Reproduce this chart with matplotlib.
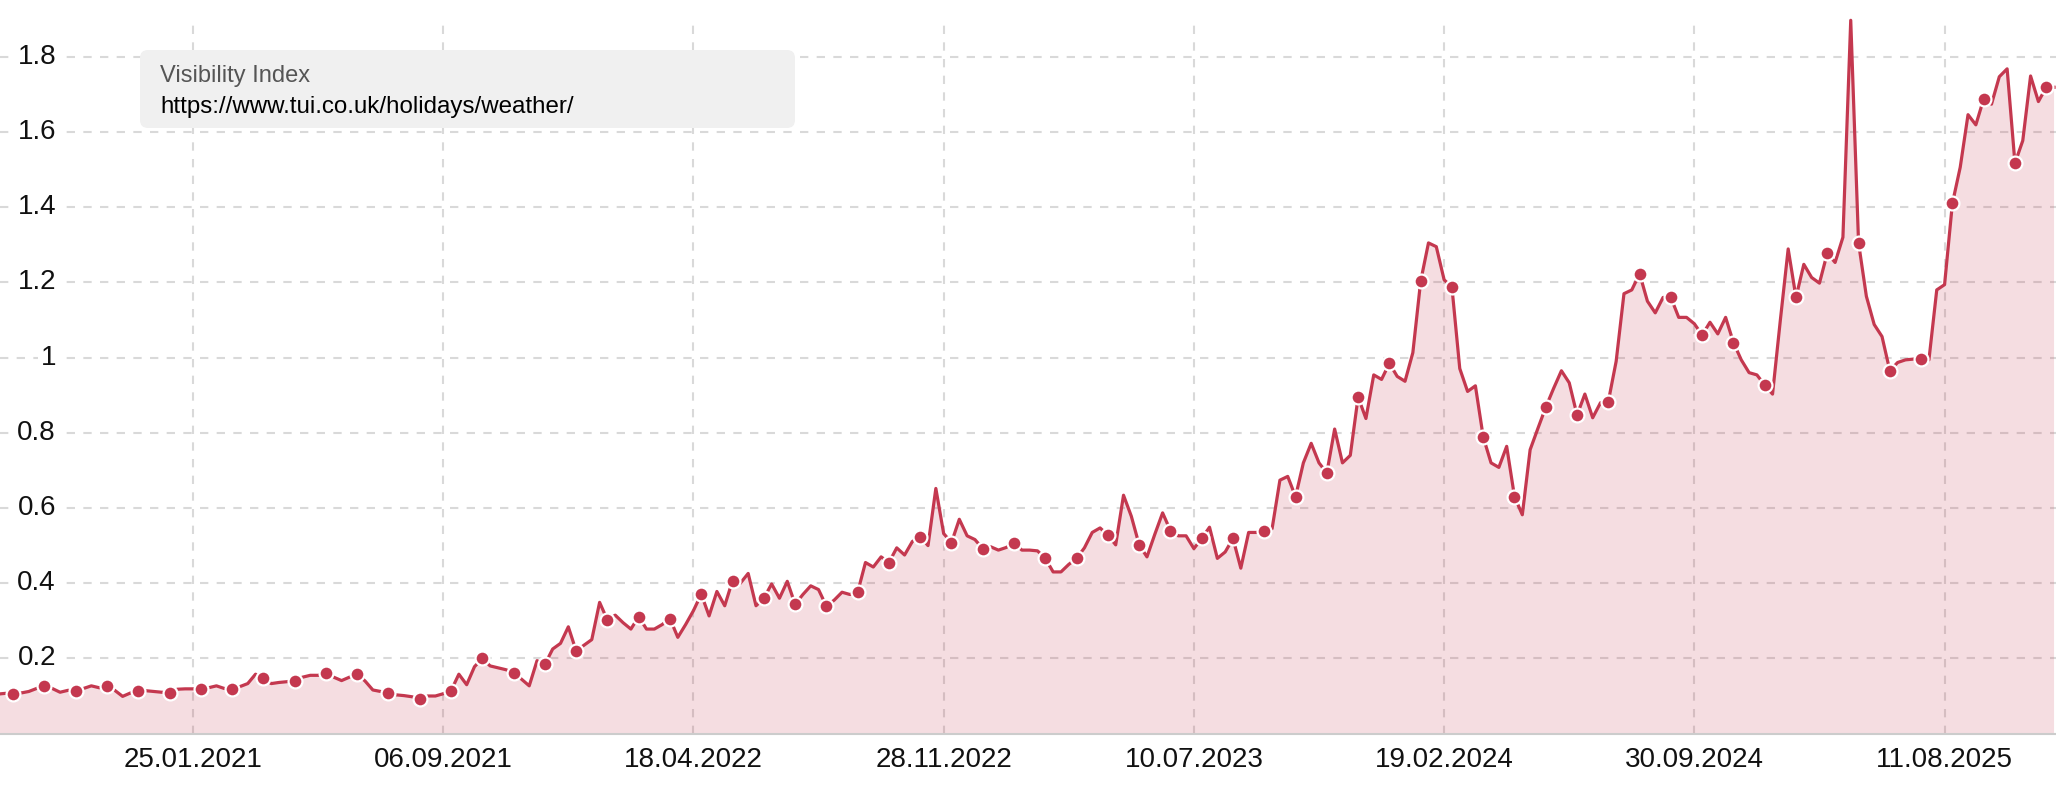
import numpy as np
import matplotlib
matplotlib.use("Agg")
import matplotlib.pyplot as plt
from matplotlib.patches import FancyBboxPatch
from matplotlib.transforms import IdentityTransform

plt.rcParams['font.family'] = ['Liberation Sans', 'DejaVu Sans']

# weekly visibility index values (first value sits just left of the axis)
visibility = [
    0.105, 0.107,
    0.104, 0.108, 0.112, 0.120, 0.127, 0.120, 0.110, 0.115, 0.114, 0.120,
    0.127, 0.122, 0.127, 0.115, 0.099, 0.108, 0.114, 0.114, 0.112, 0.110,
    0.109, 0.118, 0.119, 0.119, 0.119, 0.122, 0.127, 0.120, 0.119, 0.125,
    0.133, 0.158, 0.147, 0.133, 0.136, 0.138, 0.141, 0.150, 0.155, 0.155,
    0.162, 0.150, 0.141, 0.150, 0.158, 0.140, 0.116, 0.112, 0.109, 0.103,
    0.101, 0.098, 0.092, 0.100, 0.100, 0.106, 0.114, 0.158, 0.130, 0.178,
    0.200, 0.180, 0.175, 0.170, 0.162, 0.145, 0.127, 0.194, 0.184, 0.225,
    0.240, 0.284, 0.220, 0.235, 0.250, 0.349, 0.302, 0.315, 0.295, 0.278,
    0.311, 0.278, 0.278, 0.290, 0.306, 0.256, 0.290, 0.327, 0.371, 0.313,
    0.378, 0.340, 0.407, 0.400, 0.426, 0.340, 0.360, 0.398, 0.360, 0.405,
    0.344, 0.370, 0.393, 0.383, 0.339, 0.355, 0.376, 0.370, 0.376, 0.455,
    0.443, 0.470, 0.455, 0.494, 0.475, 0.511, 0.524, 0.500, 0.652, 0.532,
    0.508, 0.570, 0.526, 0.516, 0.492, 0.497, 0.488, 0.495, 0.508, 0.488,
    0.488, 0.486, 0.466, 0.430, 0.430, 0.450, 0.466, 0.494, 0.535, 0.547,
    0.528, 0.502, 0.634, 0.578, 0.502, 0.470, 0.530, 0.587, 0.540, 0.526,
    0.526, 0.492, 0.519, 0.549, 0.466, 0.483, 0.519, 0.440, 0.535, 0.535,
    0.540, 0.545, 0.674, 0.684, 0.630, 0.720, 0.772, 0.720, 0.693, 0.810,
    0.720, 0.740, 0.895, 0.838, 0.954, 0.942, 0.985, 0.950, 0.937, 1.013,
    1.203, 1.305, 1.295, 1.207, 1.187, 0.971, 0.910, 0.925, 0.789, 0.720,
    0.708, 0.764, 0.630, 0.582, 0.755, 0.812, 0.868, 0.918, 0.965, 0.933,
    0.847, 0.903, 0.840, 0.880, 0.883, 0.990, 1.170, 1.180, 1.223, 1.150,
    1.119, 1.160, 1.160, 1.107, 1.107, 1.090, 1.060, 1.094, 1.063, 1.107,
    1.040, 0.994, 0.960, 0.954, 0.927, 0.903, 1.100, 1.289, 1.160, 1.248,
    1.213, 1.198, 1.278, 1.253, 1.320, 1.897, 1.305, 1.163, 1.088, 1.056,
    0.965, 0.987, 0.994, 0.996, 0.996, 0.994, 1.180, 1.194, 1.410, 1.506,
    1.646, 1.619, 1.688, 1.674, 1.747, 1.768, 1.517, 1.577, 1.749, 1.681,
    1.719, 1.719,
]

date_labels = ['25.01.2021', '06.09.2021', '18.04.2022', '28.11.2022',
               '10.07.2023', '19.02.2024', '30.09.2024', '11.08.2025']
y_ticks = [0.2, 0.4, 0.6, 0.8, 1.0, 1.2, 1.4, 1.6, 1.8]

series_name = 'Visibility Index'
url = 'https://www.tui.co.uk/holidays/weather/'

line_col = '#c4384f'
grid_col = '#d9d9d9'

x = np.arange(len(visibility)) - 1
y = np.array(visibility)

fig = plt.figure(figsize=(20.56, 8.0), dpi=100)
ax = fig.add_axes([0, 0.083, 1, 0.893])

# grid
tick_pos = [24 + 32 * k for k in range(len(date_labels))]
for t in y_ticks:
    ax.axhline(t, color=grid_col, lw=1.5, ls=(0, (4, 4)), zorder=0)
for t in tick_pos:
    ax.axvline(t, color=grid_col, lw=1.5, ls=(0, (4, 4)), zorder=0)

ax.fill_between(x, y, 0, color=line_col, alpha=0.17, lw=0, zorder=1)
ax.plot(x, y, color=line_col, lw=2.3, zorder=3, clip_on=False,
        marker='o', markevery=slice(2, None, 4), markersize=10,
        markerfacecolor=line_col, markeredgecolor='white', markeredgewidth=1.6)

ax.set_xlim(-0.68, 262.25)
ax.set_ylim(0, 1.9)

ax.set_xticks(tick_pos)
ax.set_xticklabels(date_labels, fontsize=20, color='#111111')
ax.tick_params(axis='x', length=0, pad=10)
ax.set_yticks([])

for s in ['top', 'left', 'right']:
    ax.spines[s].set_visible(False)
ax.spines['bottom'].set_color('#cccccc')
ax.spines['bottom'].set_linewidth(1.5)

# y labels sit inside the plot area
for t in y_ticks:
    ax.text(56 / 2056, t, '{:g}'.format(t), transform=ax.get_yaxis_transform(),
            ha='right', va='center', fontsize=20, color='#111111', zorder=5,
            bbox=dict(facecolor='white', edgecolor='none', pad=2))

# legend box
box = FancyBboxPatch((140, 800 - 128), 655, 78,
                     boxstyle='round,pad=0,rounding_size=8',
                     transform=IdentityTransform(),
                     facecolor='#f0f0f0', edgecolor='none')
fig.add_artist(box)
fig.text(160 / 2056, 1 - 76 / 800, series_name, ha='left', va='center',
         fontsize=17, color='#555555')
fig.text(160 / 2056, 1 - 107 / 800, url, ha='left', va='center',
         fontsize=17.4, color='#000000')

fig.savefig('out.png', dpi=100)
